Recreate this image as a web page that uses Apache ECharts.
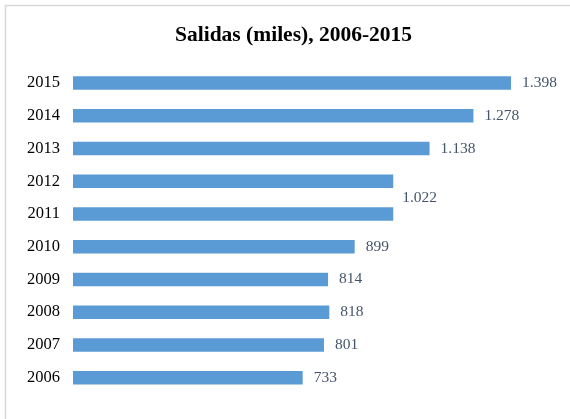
<!DOCTYPE html>
<html><head><meta charset="utf-8">
<script src="https://cdn.jsdelivr.net/npm/echarts@6/dist/echarts.min.js"></script>
<style>html,body{margin:0;padding:0;background:#fff}#c{width:570px;height:419px}</style>
</head><body><div id="c"></div>
<script>
const titleText = 'Salidas (miles), 2006-2015';
const years = ['2006','2007','2008','2009','2010','2011','2012','2013','2014','2015'];
const salidas = [733, 801, 818, 814, 899, 1022, 1022, 1138, 1278, 1398];
const valueLabels = ['733','801','818','814','899','1.022','','1.138','1.278','1.398'];

const chart = echarts.init(document.getElementById('c'), null, {renderer:'canvas'});
const data = salidas.map((v, i) => {
  const item = {value: v};
  if (i === 5) item.label = {offset: [-2, -16]};
  if (!valueLabels[i]) item.label = {show: false};
  return item;
});
chart.setOption({
  animation: false,
  backgroundColor: '#fff',
  graphic: [{
    type: 'rect', shape: {x: 5.5, y: 5.5, width: 600, height: 500},
    style: {fill: 'none', stroke: '#d9d9d9', lineWidth: 1.5}, silent: true
  }],
  title: {
    text: titleText, left: 170, top: 19,
    textStyle: {fontFamily: 'Liberation Serif', fontWeight: 'bold', fontSize: 21.5, color: '#000'}
  },
  grid: {left: 73, right: 27, top: 66.6, bottom: 25, containLabel: false},
  xAxis: {type: 'value', min: 0, max: 1500, show: false},
  yAxis: {
    type: 'category', data: years,
    axisLine: {show: false}, axisTick: {show: false},
    axisLabel: {fontFamily: 'Liberation Serif', fontSize: 16.5, color: '#000', margin: 13}
  },
  series: [{
    type: 'bar', data: data, barWidth: 13.5,
    itemStyle: {color: '#5B9BD5'},
    label: {
      show: true, position: 'right', distance: 11,
      fontFamily: 'Liberation Serif', fontSize: 15.5, color: '#44546A',
      formatter: p => valueLabels[p.dataIndex]
    }
  }]
});
</script></body></html>
